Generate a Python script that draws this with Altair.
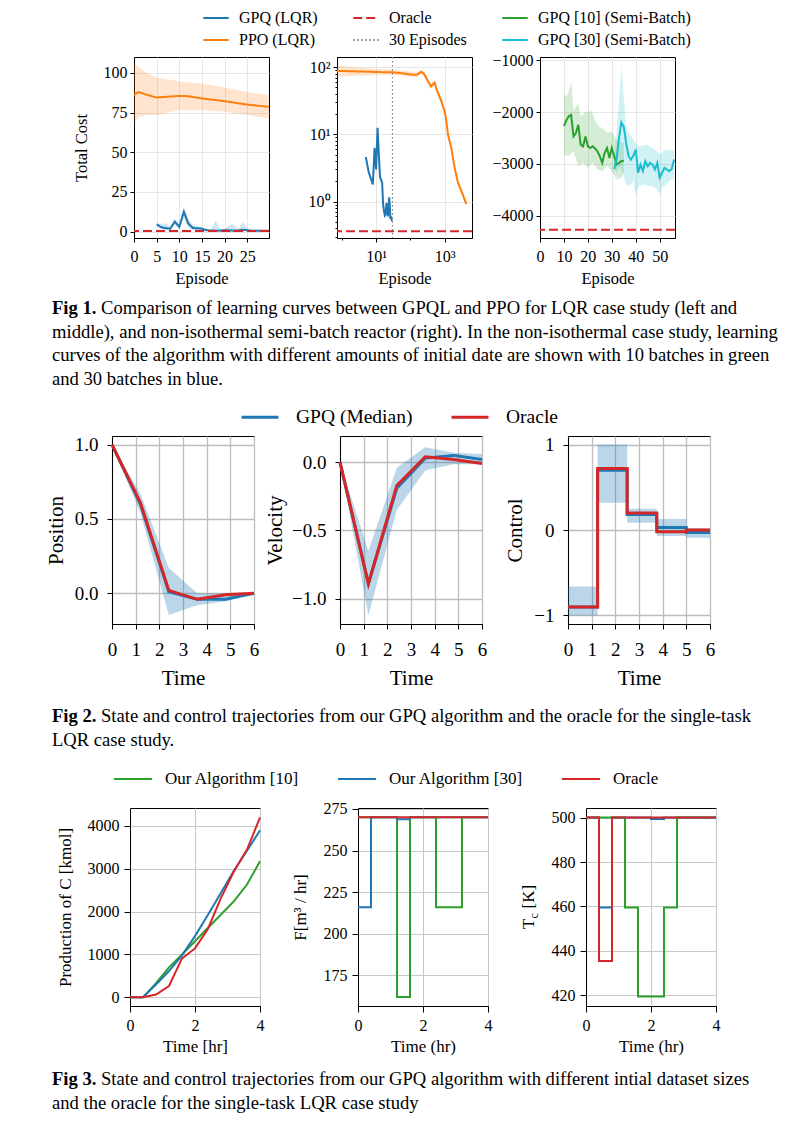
import altair as alt
import pandas as pd

FONT = "Liberation Serif"
BLUE, ORANGE, GREEN, RED, CYAN, GRAY = "#1f77b4", "#ff7f0e", "#2ca02c", "#d62728", "#17becf", "#808080"

# ---------------- Fig 1 data ----------------
gpq_ep = list(range(5, 31))
gpq_cost = [4.6, 2.8, 2.2, 1.8, 6.3, 3.0, 12.5, 5.0, 2.3, 2.1, 1.9, 0.9, 0.72, 0.62, 0.65, 0.95,
            0.8, 0.6, 0.8, 1.15, 0.9, 0.55, 0.6, 0.55, 0.52, 0.52]
gpq_cost_hi = [5.5, 4.5, 5.5, 3.0, 8.0, 4.5, 16.0, 8.0, 4.0, 3.5, 2.5, 1.5, 1.5, 7.0, 1.5, 1.5,
               4.0, 4.5, 1.5, 6.0, 2.0, 1.2, 1.2, 1.0, 1.0, 1.0]
gpq_cost_lo = [3.5, 1.5, 1.0, 1.0, 4.5, 1.5, 9.0, 2.5, 1.0, 1.0, 0.8, 0.4, 0.3, 0.3, 0.3, 0.3,
               0.3, 0.3, 0.3, 0.3, 0.3, 0.3, 0.3, 0.3, 0.3, 0.3]
ppo_ep_lin = [0, 1, 3, 5, 10, 12, 15, 20, 25, 29.8]
ppo_cost_lin = [86, 88, 86, 84.5, 85.5, 85.3, 83.9, 82.2, 80, 78.6]
ppo_hi_lin = [105.9, 103.8, 99.6, 96.9, 94.8, 94.0, 93.3, 90.8, 88.0, 86.0]
ppo_lo_lin = [68, 72, 73.4, 73.4, 76.5, 76.5, 76.5, 75.5, 73.4, 71.3]
ppo_ep_log = [0.72, 1, 2, 5, 10, 20, 30, 50, 100, 150, 207, 250, 325, 400, 509, 600, 800, 900,
              1000, 1100, 1250, 1567, 1960, 2455, 3080, 4290]
ppo_cost_log = [88, 88, 87, 86, 85, 84, 84, 82, 78, 77, 85, 80, 62, 52, 59, 45, 31.5, 26, 22, 17,
                10, 6.3, 3.2, 1.9, 1.44, 0.92]
ppo_hi_log = [108, 104, 100, 97, 95, 93, 92, 90, 86, 84, 92, 88, 68, 57, 64, 50, 35, 29, 24.5, 19,
              11.2, 7.0, 3.6, 2.1, 1.6, 1.02]
ppo_lo_log = [70, 73, 74, 75, 76, 76, 76, 75, 72, 71, 78, 73, 57, 47, 54, 40, 28, 23, 19.5, 15,
              8.8, 5.6, 2.8, 1.7, 1.3, 0.83]
oracle_lqr = 0.36
episodes_mark = 30
log_minor_x = [1, 100]
log_minor_y = [0.3, 0.4, 0.5, 0.6, 0.7, 0.8, 0.9, 2, 3, 4, 5, 6, 7, 8, 9, 20, 30, 40, 50, 60, 70, 80, 90]

g10_ep = list(range(10, 36))
g10_reward = [-2264, -2160, -2080, -2053, -2468, -2404, -2245, -2628, -2660, -2468, -2660, -2691, -2660,
              -2700, -2755, -2851, -2979, -2787, -2691, -2883, -2691, -2851, -3011, -2979, -2947, -2934]
g10_hi = [-1670, -1700, -1600, -1415, -1957, -1900, -1830, -2085, -2050, -1989, -2000, -1957, -2021,
          -2150, -2245, -2280, -2309, -2350, -2404, -2390, -2372, -2450, -2532, -2560, -2590, -2596]
g10_lo = [-2819, -2835, -2851, -2800, -2755, -2900, -3043, -3010, -2979, -3020, -3074, -3030, -2979,
          -3040, -3106, -3120, -3138, -3090, -3043, -3090, -3138, -3220, -3298, -3280, -3266, -3170]
g30_ep = list(range(31, 57))
g30_reward = [-3094, -2900, -2500, -2200, -2280, -2600, -2851, -2915, -2840, -2723, -3170, -3011, -3138,
              -2947, -3043, -2980, -3011, -3106, -2979, -3266, -3170, -3074, -3106, -3138, -3100, -2915]
g30_hi = [-2851, -2404, -1766, -1096, -1702, -2277, -2404, -2450, -2532, -2600, -2660, -2660, -2650,
          -2628, -2640, -2670, -2691, -2720, -2760, -2819, -2780, -2740, -2723, -2723, -2723, -2723]
g30_lo = [-3106, -3170, -3043, -3100, -3250, -3394, -3426, -3400, -3330, -3617, -3450, -3426, -3394,
          -3400, -3420, -3426, -3430, -3450, -3500, -3585, -3450, -3426, -3380, -3330, -3298, -3298]
oracle_batch = -4270

f1_series = ["GPQ (LQR)", "Oracle", "GPQ [10] (Semi-Batch)", "PPO (LQR)", "30 Episodes", "GPQ [30] (Semi-Batch)"]
f1_colors = [BLUE, RED, GREEN, ORANGE, GRAY, CYAN]
f1_dashes = [[1, 0], [9, 4], [1, 0], [1, 0], [1.5, 2.5], [1, 0]]

# ---------------- Fig 2 data ----------------
t_state = [0, 1.2, 2.4, 3.6, 4.8, 6.0]
pos_gpq = [1.0, 0.60, 0.01, -0.04, -0.04, 0.0]
pos_orc = [1.0, 0.61, 0.02, -0.04, -0.01, 0.0]
pos_lo = [1.0, 0.54, -0.145, -0.08, -0.055, 0.0]
pos_hi = [1.0, 0.67, 0.17, 0.0, 0.0, 0.0]
vel_gpq = [0.0, -0.89, -0.19, 0.03, 0.05, 0.02]
vel_orc = [0.0, -0.89, -0.17, 0.04, 0.02, -0.01]
vel_lo = [0.0, -1.12, -0.35, -0.06, -0.015, -0.015]
vel_hi = [0.0, -0.65, -0.04, 0.11, 0.07, 0.06]
t_ctrl = [0, 1.25, 2.5, 3.75, 5.0, 6.0]
ctl_gpq = [-0.9, 0.70, 0.18, 0.03, -0.03, -0.03]
ctl_orc = [-0.9, 0.72, 0.20, -0.02, 0.0, 0.0]
ctl_lo = [-1.0, 0.32, 0.085, -0.07, -0.09, -0.09]
ctl_hi = [-0.66, 1.0, 0.25, 0.13, 0.02, 0.02]
f2_series = ["GPQ (Median)", "Oracle"]
f2_colors = [BLUE, RED]

# ---------------- Fig 3 data ----------------
t_hr = [0, 0.4, 0.8, 1.2, 1.6, 2.0, 2.4, 2.8, 3.2, 3.6, 4.0]
prod_10 = [0, 0, 330, 700, 1000, 1310, 1623, 1933, 2244, 2632, 3175]
prod_30 = [0, 0, 300, 613, 978, 1428, 1925, 2440, 2960, 3420, 3898]
prod_orc = [0, 0, 65, 264, 908, 1141, 1600, 2321, 2943, 3447, 4200]
flow_10 = [270, 270, 270, 162, 270, 270, 216, 216, 270, 270, 270]
flow_30 = [216, 270, 270, 268.8, 270, 270, 270, 270, 270, 270, 270]
flow_orc = [270] * 11
tc_10 = [500, 500, 500, 459.5, 419.5, 419.5, 459.5, 500, 500, 500, 500]
tc_30 = [500, 459.5, 500, 500, 500, 499.4, 500, 500, 500, 500, 500]
tc_orc = [500, 435.5, 500, 500, 500, 500, 500, 500, 500, 500, 500]
f3_series = ["Our Algorithm [10]", "Our Algorithm [30]", "Oracle"]
f3_colors = [GREEN, BLUE, RED]

# ---------------- captions ----------------
cap1_bold = "Fig 1."
cap1_first = "Comparison of learning curves between GPQL and PPO for LQR case study (left and"
cap1_rest = ["middle), and non-isothermal semi-batch reactor (right). In the non-isothermal case study, learning",
             "curves of the algorithm with different amounts of initial date are shown with 10 batches in green",
             "and 30 batches in blue."]
cap2_bold = "Fig 2."
cap2_first = "State and control trajectories from our GPQ algorithm and the oracle for the single-task"
cap2_rest = ["LQR case study."]
cap3_bold = "Fig 3."
cap3_first = "State and control trajectories from our GPQ algorithm with different intial dataset sizes"
cap3_rest = ["and the oracle for the single-task LQR case study"]


def frame(x, y, series=None, y2=None):
    d = {"x": x, "y": y}
    if y2 is not None:
        d["y2"] = y2
    df = pd.DataFrame(d)
    if series is not None:
        df["series"] = series
    return df


def ax(values, title, lsize, tsize, gcolor, tick, lpad, tpad, fmt=None, expr=None, gwidth=1.0):
    kw = dict(values=values, title=title, labelFont=FONT, titleFont=FONT, labelFontSize=lsize,
              titleFontSize=tsize, titleFontWeight="normal", labelColor="black", titleColor="black",
              domainColor="black", tickColor="black", tickSize=tick, labelPadding=lpad,
              titlePadding=tpad, grid=True, gridColor=gcolor, gridWidth=gwidth,
              labelFlush=False, labelOverlap=False)
    if fmt:
        kw["format"] = fmt
    if expr:
        kw["labelExpr"] = expr
    return alt.Axis(**kw)


def minor_axis(values, orient):
    return alt.Axis(values=values, orient=orient, title=None, labels=False, grid=False, domain=False,
                    tickSize=2, tickColor="black")


def lin(domain):
    return alt.Scale(domain=domain, nice=False, zero=False)


def spacer(w):
    return alt.Chart(pd.DataFrame({"a": [0]})).mark_point(opacity=0, size=1).encode(
        x=alt.value(w / 2), y=alt.value(10)).properties(width=w, height=20, view=alt.ViewBackground(stroke="transparent"))


# ================= Fig 1 =================
leg1 = alt.Legend(title=None, orient="none", legendX=193, legendY=-53, direction="horizontal", columns=3,
                  symbolType="stroke", symbolSize=650, symbolStrokeWidth=2, labelFont=FONT, labelFontSize=16,
                  labelColor="black", labelOffset=9, columnPadding=31, rowPadding=-1.5, padding=0)
C1 = alt.Color("series:N", scale=alt.Scale(domain=f1_series, range=f1_colors), legend=leg1)
D1 = alt.StrokeDash("series:N", scale=alt.Scale(domain=f1_series, range=f1_dashes), legend=leg1)
F1 = dict(lsize=16, tsize=16.5, gcolor="#e6e6e6", tick=4)
W1, H1 = 135, 181

# panel 1a
X = alt.X("x:Q", scale=lin([0, 29.8]), axis=ax([0, 5, 10, 15, 20, 25], "Episode", lpad=6, tpad=6, **F1))
Y = alt.Y("y:Q", scale=lin([-4, 110]), axis=ax([0, 25, 50, 75, 100], "Total Cost", lpad=3, tpad=14, **F1))
p1a = alt.layer(
    alt.Chart(frame(ppo_ep_lin, ppo_lo_lin, y2=ppo_hi_lin)).mark_area(color=ORANGE, opacity=0.2, clip=True).encode(x=X, y=Y, y2="y2:Q"),
    alt.Chart(frame(gpq_ep, gpq_cost_lo, y2=gpq_cost_hi)).mark_area(color=BLUE, opacity=0.2, clip=True).encode(x=X, y=Y, y2="y2:Q"),
    alt.Chart(frame(ppo_ep_lin, ppo_cost_lin, "PPO (LQR)")).mark_line(strokeWidth=2, clip=True).encode(x=X, y=Y, color=C1, strokeDash=D1),
    alt.Chart(frame(gpq_ep, gpq_cost, "GPQ (LQR)")).mark_line(strokeWidth=2, clip=True).encode(x=X, y=Y, color=C1, strokeDash=D1),
    alt.Chart(frame([0], [oracle_lqr], "Oracle")).mark_rule(strokeWidth=2).encode(y=Y, color=C1, strokeDash=D1),
).properties(width=W1, height=H1)

# panel 1b (log-log)
X = alt.X("x:Q", scale=alt.Scale(type="log", domain=[0.72, 6300], nice=False),
          axis=ax([10, 1000], "Episode", lpad=6, tpad=6, expr="datum.value == 10 ? '10\u00b9' : '10\u00b3'", **F1))
Y = alt.Y("y:Q", scale=alt.Scale(type="log", domain=[0.286, 142], nice=False),
          axis=ax([1, 10, 100], None, lpad=3, tpad=8,
                  expr="datum.value == 1 ? '10\u2070' : (datum.value == 10 ? '10\u00b9' : '10\u00b2')", **F1))
p1b_main = alt.layer(
    alt.Chart(frame(ppo_ep_log, ppo_lo_log, y2=ppo_hi_log)).mark_area(color=ORANGE, opacity=0.2, clip=True).encode(x=X, y=Y, y2="y2:Q"),
    alt.Chart(frame(ppo_ep_log, ppo_cost_log, "PPO (LQR)")).mark_line(strokeWidth=2, clip=True).encode(x=X, y=Y, color=C1, strokeDash=D1),
    alt.Chart(frame(gpq_ep, gpq_cost, "GPQ (LQR)")).mark_line(strokeWidth=2, clip=True).encode(x=X, y=Y, color=C1, strokeDash=D1),
    alt.Chart(frame([episodes_mark], [1], "30 Episodes")).mark_rule(strokeWidth=1.2).encode(x=X, color=C1, strokeDash=D1),
    alt.Chart(frame([1], [oracle_lqr], "Oracle")).mark_rule(strokeWidth=2).encode(y=Y, color=C1, strokeDash=D1),
)
p1b_minor = alt.Chart(frame([10], [10])).mark_point(opacity=0, size=1).encode(
    x=alt.X("x:Q", axis=minor_axis(log_minor_x, "bottom")),
    y=alt.Y("y:Q", axis=minor_axis(log_minor_y, "left")),
)
p1b = alt.layer(p1b_main, p1b_minor).resolve_axis(x="independent", y="independent").properties(width=W1, height=H1)

# panel 1c
X = alt.X("x:Q", scale=lin([0, 56.4]), axis=ax([0, 10, 20, 30, 40, 50], "Episode", lpad=6, tpad=6, **F1))
Y = alt.Y("y:Q", scale=lin([-4427, -937]), axis=ax([-1000, -2000, -3000, -4000], None, lpad=3, tpad=8, fmt="d", **F1))
p1c = alt.layer(
    alt.Chart(frame(g10_ep, g10_lo, y2=g10_hi)).mark_area(color=GREEN, opacity=0.2, clip=True).encode(x=X, y=Y, y2="y2:Q"),
    alt.Chart(frame(g30_ep, g30_lo, y2=g30_hi)).mark_area(color=CYAN, opacity=0.2, clip=True).encode(x=X, y=Y, y2="y2:Q"),
    alt.Chart(frame(g10_ep, g10_reward, "GPQ [10] (Semi-Batch)")).mark_line(strokeWidth=2, clip=True).encode(x=X, y=Y, color=C1, strokeDash=D1),
    alt.Chart(frame(g30_ep, g30_reward, "GPQ [30] (Semi-Batch)")).mark_line(strokeWidth=2, clip=True).encode(x=X, y=Y, color=C1, strokeDash=D1),
    alt.Chart(frame([0], [oracle_batch], "Oracle")).mark_rule(strokeWidth=2).encode(y=Y, color=C1, strokeDash=D1),
).properties(width=W1, height=H1)

row1 = alt.hconcat(spacer(57), p1a, p1b, p1c, spacing=68, bounds="flush")

# ================= Fig 2 =================
leg2 = alt.Legend(title=None, orient="none", legendX=231, legendY=-39, direction="horizontal",
                  symbolType="stroke", symbolSize=1369, symbolStrokeWidth=3, labelFont=FONT, labelFontSize=19.5,
                  labelColor="black", labelOffset=16, columnPadding=32, padding=0)
C2 = alt.Color("series:N", scale=alt.Scale(domain=f2_series, range=f2_colors), legend=leg2)
F2 = dict(lsize=19, tsize=21, gcolor="#bdbdbd", tick=5, gwidth=1.3)
W2, H2 = 142, 188
XT = alt.X("x:Q", scale=lin([0, 6]), axis=ax([0, 1, 2, 3, 4, 5, 6], "Time", lpad=11, tpad=8, **F2))


def state_panel(y_dom, ticks, title, lo, hi, gpq, orc, fmt, interp="linear", tpad=9, t=None):
    Y = alt.Y("y:Q", scale=lin(y_dom), axis=ax(ticks, title, lpad=9, tpad=tpad, fmt=fmt, **F2))
    return alt.layer(
        alt.Chart(frame(t, lo, y2=hi)).mark_area(color=BLUE, opacity=0.3, interpolate=interp).encode(x=XT, y=Y, y2="y2:Q"),
        alt.Chart(frame(t, gpq, "GPQ (Median)")).mark_line(strokeWidth=3, interpolate=interp).encode(x=XT, y=Y, color=C2),
        alt.Chart(frame(t, orc, "Oracle")).mark_line(strokeWidth=3, interpolate=interp).encode(x=XT, y=Y, color=C2),
    ).properties(width=W2, height=H2)


p2a = state_panel([-0.206, 1.058], [0, 0.5, 1.0], "Position", pos_lo, pos_hi, pos_gpq, pos_orc, ".1f", t=t_state, tpad=8)
p2b = state_panel([-1.185, 0.192], [-1.0, -0.5, 0.0], "Velocity", vel_lo, vel_hi, vel_gpq, vel_orc, ".1f", t=t_state, tpad=6)
p2c = state_panel([-1.1, 1.1], [-1, 0, 1], "Control", ctl_lo, ctl_hi, ctl_gpq, ctl_orc, "d",
                  interp="step-after", t=t_ctrl, tpad=8)
row2 = alt.hconcat(spacer(17), p2a, p2b, p2c, spacing=86, bounds="flush")

# ================= Fig 3 =================
leg3 = alt.Legend(title=None, orient="none", legendX=104, legendY=-49, direction="horizontal",
                  symbolType="stroke", symbolSize=1444, symbolStrokeWidth=2, labelFont=FONT, labelFontSize=17,
                  labelColor="black", labelOffset=12, columnPadding=34, padding=0)
C3 = alt.Color("series:N", scale=alt.Scale(domain=f3_series, range=f3_colors), legend=leg3)
F3 = dict(lsize=16, tsize=17, gcolor="#c8c8c8", tick=6)
W3, H3 = 130, 198


def traj_panel(y_dom, ticks, ytitle, xtitle, s10, s30, sor, interp, extra=None, ytpad=8):
    X = alt.X("x:Q", scale=lin([0, 4]), axis=ax([0, 2, 4], xtitle, lpad=5, tpad=5, **F3))
    Y = alt.Y("y:Q", scale=lin(y_dom), axis=ax(ticks, ytitle, lpad=5, tpad=ytpad, fmt="d", **F3))
    layers = [
        alt.Chart(frame(t_hr, s10, f3_series[0])).mark_line(strokeWidth=2, interpolate=interp).encode(x=X, y=Y, color=C3),
        alt.Chart(frame(t_hr, s30, f3_series[1])).mark_line(strokeWidth=2, interpolate=interp).encode(x=X, y=Y, color=C3),
        alt.Chart(frame(t_hr, sor, f3_series[2])).mark_line(strokeWidth=2, interpolate=interp).encode(x=X, y=Y, color=C3),
    ]
    if extra:
        layers += extra
    return alt.layer(*layers).properties(width=W3, height=H3)


def label_text(s, x, y, size):
    return alt.Chart(pd.DataFrame({"a": [0]})).mark_text(
        text=s, font=FONT, fontSize=size, angle=270, align="left", baseline="alphabetic", color="black"
    ).encode(x=alt.value(x), y=alt.value(y))


tc_title = [label_text("T", -52, 121, 17), label_text("c", -48.5, 110.5, 12), label_text("[K]", -52, 100.5, 17)]
p3a = traj_panel([-203, 4419], [0, 1000, 2000, 3000, 4000], "Production of C [kmol]", "Time [hr]",
                 prod_10, prod_30, prod_orc, "linear", ytpad=13)
p3b = traj_panel([156.6, 275.6], [175, 200, 225, 250, 275], "F[m\u00b3 / hr]", "Time (hr)",
                 flow_10, flow_30, flow_orc, "step-after", ytpad=14)
p3c = traj_panel([415.2, 504.3], [420, 440, 460, 480, 500], None, "Time (hr)",
                 tc_10, tc_30, tc_orc, "step-after", extra=tc_title)
row3 = alt.hconcat(spacer(23), p3a, p3b, p3c, spacing=98, bounds="flush")


# ================= captions =================
def caption(bold, first, rest, height, y0, size=18.6, lh=23.5, x0=43, bw=49):
    base = alt.Chart(pd.DataFrame({"a": [0]}))
    common = dict(font=FONT, fontSize=size, align="left", baseline="alphabetic", color="black")
    return alt.layer(
        base.mark_text(text=bold, fontWeight="bold", **common).encode(x=alt.value(x0), y=alt.value(y0)),
        base.mark_text(text=first, **common).encode(x=alt.value(x0 + bw), y=alt.value(y0)),
        base.mark_text(text=rest, lineHeight=lh, **common).encode(x=alt.value(x0), y=alt.value(y0 + lh)),
    ).properties(width=760, height=height, view=alt.ViewBackground(stroke="transparent"))


cap1 = caption(cap1_bold, cap1_first, cap1_rest, 108, 26)
cap2 = caption(cap2_bold, cap2_first, cap2_rest, 68, 32)
cap3 = caption(cap3_bold, cap3_first, cap3_rest, 60, 29)

chart = alt.vconcat(row1, cap1, row2, cap2, row3, cap3, spacing=0).resolve_scale(
    color="independent", strokeDash="independent"
).properties(padding={"left": 0, "top": -4, "right": 0, "bottom": 0}).configure_view(stroke="black", strokeWidth=1)

chart.save("out.html", embed_options={"renderer": "svg", "actions": False})
